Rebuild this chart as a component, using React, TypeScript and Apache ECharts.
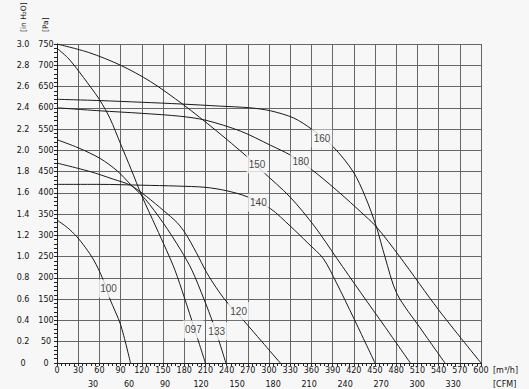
import React, { useEffect, useRef } from 'react';
import * as echarts from 'echarts';

// Fan performance curves: [airflow m³/h, static pressure Pa]
const curve097: [number, number][] = [[0, 740], [15, 718], [28, 692], [47, 650], [61, 617], [75, 575], [90, 515], [105, 455], [120, 393], [140, 320], [155, 265], [167, 218], [180, 155], [195, 78], [210, 0]];
const curve133: [number, number][] = [[0, 525], [30, 506], [61, 481], [85, 452], [104, 420], [125, 385], [150, 330], [175, 266], [191, 218], [208, 150], [221, 93], [229, 53], [239, 0]];
const curve120: [number, number][] = [[0, 470], [47, 450], [80, 432], [104, 418], [127, 391], [151, 358], [170, 330], [182, 304], [197, 260], [212, 212], [225, 178], [238, 148], [264, 100], [290, 50], [316, 0]];
const curve100: [number, number][] = [[0, 336], [15, 318], [28, 297], [40, 272], [52, 242], [64, 201], [75, 150], [90, 90], [104, 0]];
const curve140: [number, number][] = [[0, 420], [60, 420], [120, 418], [170, 416], [210, 413], [240, 405], [269, 391], [302, 363], [330, 322], [355, 282], [377, 245], [395, 190], [420, 105], [450, 0]];
const curve150: [number, number][] = [[0, 750], [45, 730], [90, 700], [132, 662], [179, 607], [224, 548], [269, 485], [290, 452], [330, 390], [365, 320], [396, 246], [430, 165], [465, 83], [500, 0]];
const curve160: [number, number][] = [[0, 620], [60, 617], [120, 613], [175, 609], [230, 604], [273, 600], [302, 593], [335, 576], [361, 549], [391, 508], [419, 450], [436, 392], [452, 320], [464, 250], [481, 163], [515, 80], [549, 0]];
const curve180: [number, number][] = [[0, 600], [60, 593], [120, 587], [175, 580], [210, 571], [260, 545], [302, 512], [330, 489], [361, 454], [400, 400], [430, 355], [452, 320], [485, 250], [540, 125], [600, 0]];

const curves = [curve097, curve133, curve120, curve100, curve140, curve150, curve160, curve180];
const curveNames = ['097', '133', '120', '100', '140', '150', '160', '180'];
const labelFlow = [193, 226, 257, 73, 285, 283, 375, 345];
const labelPressure = [79, 75, 122, 175, 377, 467, 528, 473];

const flowMax = 600;
const flowStep = 30;
const pressureMax = 750;
const pressureStep = 50;
const inH2OMax = 3.0;
const inH2OStep = 0.2;
const m3hPerCfm = 1.699;
const cfmStep = 30;

const BG = '#f7f7f7';
const AXIS_FONT = 'DejaVu Sans';

export default function App() {
  const ref = useRef<HTMLDivElement>(null);
  useEffect(() => {
    if (!ref.current) return;
    const chart = echarts.init(ref.current, undefined, { renderer: 'svg' });
    const labelStyle = { fontSize: 8, color: '#111', fontFamily: AXIS_FONT };
    const option: any = {
      animation: false,
      backgroundColor: BG,
      grid: { left: 57, right: 48, top: 44, bottom: 26, containLabel: false },
      xAxis: [
        {
          type: 'value', min: 0, max: flowMax, interval: flowStep, position: 'bottom',
          axisLine: { show: true, onZero: false, lineStyle: { color: '#222', width: 1 } },
          axisTick: { show: true, length: 3, lineStyle: { color: '#222' } },
          minorTick: { show: true, splitNumber: 5, length: 3, lineStyle: { color: '#222' } },
          splitLine: { show: true, lineStyle: { color: '#666', width: 1 } },
          axisLabel: { ...labelStyle, margin: 3 },
        },
        {
          type: 'value', min: 0, max: flowMax / m3hPerCfm, interval: cfmStep, position: 'bottom', offset: 14,
          axisLine: { show: false }, axisTick: { show: false }, splitLine: { show: false },
          axisLabel: {
            ...labelStyle, margin: 3,
            formatter: (v: number) => (v > 0 && Math.abs(v % cfmStep) < 1e-6 ? String(v) : ''),
          },
        },
      ],
      yAxis: [
        {
          type: 'value', min: 0, max: pressureMax, interval: pressureStep, position: 'left',
          axisLine: { show: true, onZero: false, lineStyle: { color: '#222', width: 1 } },
          axisTick: { show: true, length: 3, lineStyle: { color: '#222' } },
          minorTick: { show: true, splitNumber: 5, length: 3, lineStyle: { color: '#222' } },
          splitLine: { show: true, lineStyle: { color: '#666', width: 1 } },
          axisLabel: { ...labelStyle, margin: 11, align: 'center' },
        },
        {
          type: 'value', min: 0, max: inH2OMax, interval: inH2OStep, position: 'left', offset: 30,
          axisLine: { show: false }, axisTick: { show: false }, splitLine: { show: false },
          axisLabel: {
            ...labelStyle, margin: 4, align: 'center',
            formatter: (v: number) => (Math.abs(v) < 1e-9 ? '0' : v.toFixed(1)),
          },
        },
      ],
      graphic: [
        { type: 'text', x: 23, y: 32, rotation: Math.PI / 2, style: { text: '[in H₂O]', font: '7.5px "DejaVu Sans"', fill: '#111', align: 'left', verticalAlign: 'middle' } },
        { type: 'text', x: 45, y: 32, rotation: Math.PI / 2, style: { text: '[Pa]', font: '7.5px "DejaVu Sans"', fill: '#111', align: 'left', verticalAlign: 'middle' } },
        { type: 'text', x: 493, y: 370, style: { text: '[m³/h]', font: '8px "DejaVu Sans"', fill: '#111', align: 'left', verticalAlign: 'middle' } },
        { type: 'text', x: 493, y: 384, style: { text: '[CFM]', font: '8px "DejaVu Sans"', fill: '#111', align: 'left', verticalAlign: 'middle' } },
      ],
      series: [
        ...curves.map((c, i) => ({
          type: 'line', name: curveNames[i], data: c, xAxisIndex: 0, yAxisIndex: 0,
          showSymbol: false, symbol: 'none', smooth: 0.3, silent: true, z: 2,
          lineStyle: { color: '#1a1a1a', width: 1 },
        })),
        {
          type: 'scatter', xAxisIndex: 0, yAxisIndex: 0, symbolSize: 1, silent: true, z: 5,
          itemStyle: { color: 'rgba(0,0,0,0)' },
          data: curveNames.map((n, i) => ({ name: n, value: [labelFlow[i], labelPressure[i]] })),
          label: {
            show: true, position: 'inside', formatter: '{b}', fontSize: 10,
            fontFamily: 'Liberation Sans', color: '#111', backgroundColor: BG, padding: [4, 2],
          },
        },
      ],
    };
    chart.setOption(option);
    return () => chart.dispose();
  }, []);
  return <div ref={ref} style={{ position: 'absolute', left: 0, top: 0, width: 529, height: 389 }} />;
}
